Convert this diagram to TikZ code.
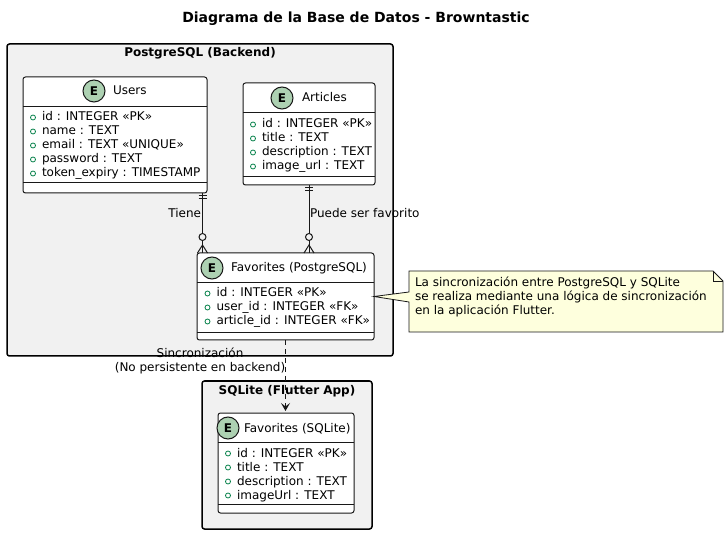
\documentclass[tikz,border=0pt]{standalone}
\usepackage{fontspec}
\setmainfont{DejaVu Sans}
\usepackage{tikz}
\usetikzlibrary{arrows.meta}
\usetikzlibrary{calc}
\usetikzlibrary{positioning}

\definecolor{pkgcolour}{HTML}{F1F1F1}
\definecolor{linecolour}{HTML}{181818}
\definecolor{ecolour}{HTML}{ADD1B2}
\definecolor{fieldcolour}{HTML}{038048}
\definecolor{notecolour}{HTML}{FEFFDD}

\newcommand\linewd{1pt}
\newcommand\pkgwidth{1.5pt}
\newcommand\attrfont{\fontsize{12}{14}\selectfont}
\newcommand\namefont{\fontsize{12}{14}\selectfont}

\tikzstyle{graph}   = [line width=\linewd, color=linecolour]
\tikzstyle{package} = [draw=black, line width=\pkgwidth, fill=pkgcolour, rounded corners=2.5pt, anchor=north west]
\tikzstyle{entity}  = [draw=linecolour, line width=\linewd, fill=white, rounded corners=2.5pt, anchor=north west]
\tikzstyle{ecircle} = [circle, draw=linecolour, line width=\linewd, fill=ecolour, minimum size=22pt, font=\namefont\bfseries]
\tikzstyle{attr}    = [anchor=base west, font=\attrfont]
\tikzstyle{field}   = [circle, draw=fieldcolour, line width=.8pt, minimum size=5pt]

% one attribute row: name, x, baseline, text
\newcommand\attrline[4]{%
  \node[field] (#1dot) at (#2-9,#3-3.5) {};
  \node[attr] (#1) at (#2,#3) {#4};
}
% crow's foot ends
\newcommand\exactlyone[1]{%
  \draw[graph] ($(#1)+(-4,3)$) -- ++(8,0);
  \draw[graph] ($(#1)+(-4,6)$) -- ++(8,0);
}
\newcommand\zeroormany[1]{%
  \draw[graph, fill=pkgcolour] ($(#1)+(0,-16)$) circle (3.5pt);
  \draw[graph] ($(#1)+(-5,0)$) -- ($(#1)+(0,-8)$) -- ($(#1)+(5,0)$);
}

\begin{document}
\begin{tikzpicture}[x=1pt, y=-1pt, >={Stealth[length=8pt,width=9pt,inset=3.5pt]}]
  \tikzstyle{every node}=[inner sep=0pt, outer sep=0pt]
  \useasboundingbox (0,0) rectangle (728,534);
  \draw (356,23) node[anchor=base, font=\fontsize{14}{16}\selectfont\bfseries] (title) {Diagrama de la Base de Datos - Browntastic};
  % packages
  \draw (7,44) node[package, minimum width=386pt, minimum height=312pt] (backend) {};
  \draw (200,57) node[anchor=base, font=\namefont\bfseries] (backendname) {PostgreSQL (Backend)};
  \draw (202,381) node[package, minimum width=170pt, minimum height=148pt] (app) {};
  \draw (287,394) node[anchor=base, font=\namefont\bfseries] (appname) {SQLite (Flutter App)};
  % Users
  \draw (23,77) node[entity, minimum width=184pt, minimum height=116pt] (users) {};
  \draw[graph] (23,107) -- (207,107);
  \draw[graph] (23,183) -- (207,183);
  \draw (94,91) node[ecircle] (usersE) {E};
  \draw (113,95) node[anchor=base west, font=\namefont] (usersname) {Users};
  \attrline{usersid}{42}{121}{id : INTEGER «PK»}
  \attrline{usersname}{42}{135}{name : TEXT}
  \attrline{usersemail}{42}{149}{email : TEXT «UNIQUE»}
  \attrline{userspass}{42}{163}{password : TEXT}
  \attrline{userstoken}{42}{177}{token\_expiry : TIMESTAMP}
  % Articles
  \draw (243,83) node[entity, minimum width=132pt, minimum height=102pt] (articles) {};
  \draw[graph] (243,113) -- (375,113);
  \draw[graph] (243,177) -- (375,177);
  \draw (282,98) node[ecircle] (articlesE) {E};
  \draw (302,102) node[anchor=base west, font=\namefont] (articlesname) {Articles};
  \attrline{articlesid}{262}{128}{id : INTEGER «PK»}
  \attrline{articlestitle}{262}{142}{title : TEXT}
  \attrline{articlesdesc}{262}{156}{description : TEXT}
  \attrline{articlesimg}{262}{170}{image\_url : TEXT}
  % Favorites (PostgreSQL)
  \draw (197,253) node[entity, minimum width=177pt, minimum height=87pt] (favpg) {};
  \draw[graph] (197,283) -- (374,283);
  \draw[graph] (197,333) -- (374,333);
  \draw (212,268) node[ecircle] (favpgE) {E};
  \draw (231,272) node[anchor=base west, font=\namefont] (favpgname) {Favorites (PostgreSQL)};
  \attrline{favpgid}{216.5}{297}{id : INTEGER «PK»}
  \attrline{favpguser}{216.5}{311}{user\_id : INTEGER «FK»}
  \attrline{favpgart}{216.5}{325}{article\_id : INTEGER «FK»}
  % Favorites (SQLite)
  \draw (218,413) node[entity, minimum width=136pt, minimum height=100pt] (favsq) {};
  \draw[graph] (218,442) -- (354,442);
  \draw[graph] (218,504) -- (354,504);
  \draw (228,428) node[ecircle] (favsqE) {E};
  \draw (244,432) node[anchor=base west, font=\namefont] (favsqname) {Favorites (SQLite)};
  \attrline{favsqid}{237}{457}{id : INTEGER «PK»}
  \attrline{favsqtitle}{237}{471}{title : TEXT}
  \attrline{favsqdesc}{237}{485}{description : TEXT}
  \attrline{favsqimg}{237}{499}{imageUrl : TEXT}
  % relations
  \coordinate (tieneA) at ([xshift=-4.5pt]users.south east);
  \coordinate (tieneB) at (tieneA |- favpg.north);
  \draw[graph] (tieneA) -- (tieneB);
  \exactlyone{tieneA}
  \zeroormany{tieneB}
  \draw (201,218) node[anchor=base east, font=\attrfont] (tiene) {Tiene};
  \coordinate (puedeA) at (articles.south);
  \coordinate (puedeB) at (puedeA |- favpg.north);
  \draw[graph] (puedeA) -- (puedeB);
  \exactlyone{puedeA}
  \zeroormany{puedeB}
  \draw (310,218) node[anchor=base west, font=\attrfont] (puede) {Puede ser favorito};
  % sync
  \draw[graph, dash pattern=on 5pt off 4pt, ->, shorten >=2pt] (favpg.south) -- (favpg.south |- favsq.north);
  \draw (200,358) node[anchor=base, font=\attrfont] (sync1) {Sincronización};
  \draw (200,372) node[anchor=base, font=\attrfont] (sync2) {(No persistente en backend)};
  % note
  \draw (409,271) node[anchor=north west, minimum width=314pt, minimum height=61pt] (note) {};
  \draw[graph, line width=.8pt, fill=notecolour] (note.north west) -- ([xshift=-10pt]note.north east)
    -- ([yshift=-10pt]note.north east) -- (note.south east) -- (note.south west)
    -- ([yshift=-0.5pt]note.west) -- (favpg.east) -- ([yshift=9.5pt]note.west) -- cycle;
  \draw[graph, line width=.8pt] ([xshift=-10pt]note.north east) |- ([yshift=-10pt]note.north east);
  \draw (415,287) node[anchor=base west, font=\attrfont] (note1) {La sincronización entre PostgreSQL y SQLite};
  \draw (415,301) node[anchor=base west, font=\attrfont] (note2) {se realiza mediante una lógica de sincronización};
  \draw (415,315) node[anchor=base west, font=\attrfont] (note3) {en la aplicación Flutter.};
\end{tikzpicture}
\end{document}
